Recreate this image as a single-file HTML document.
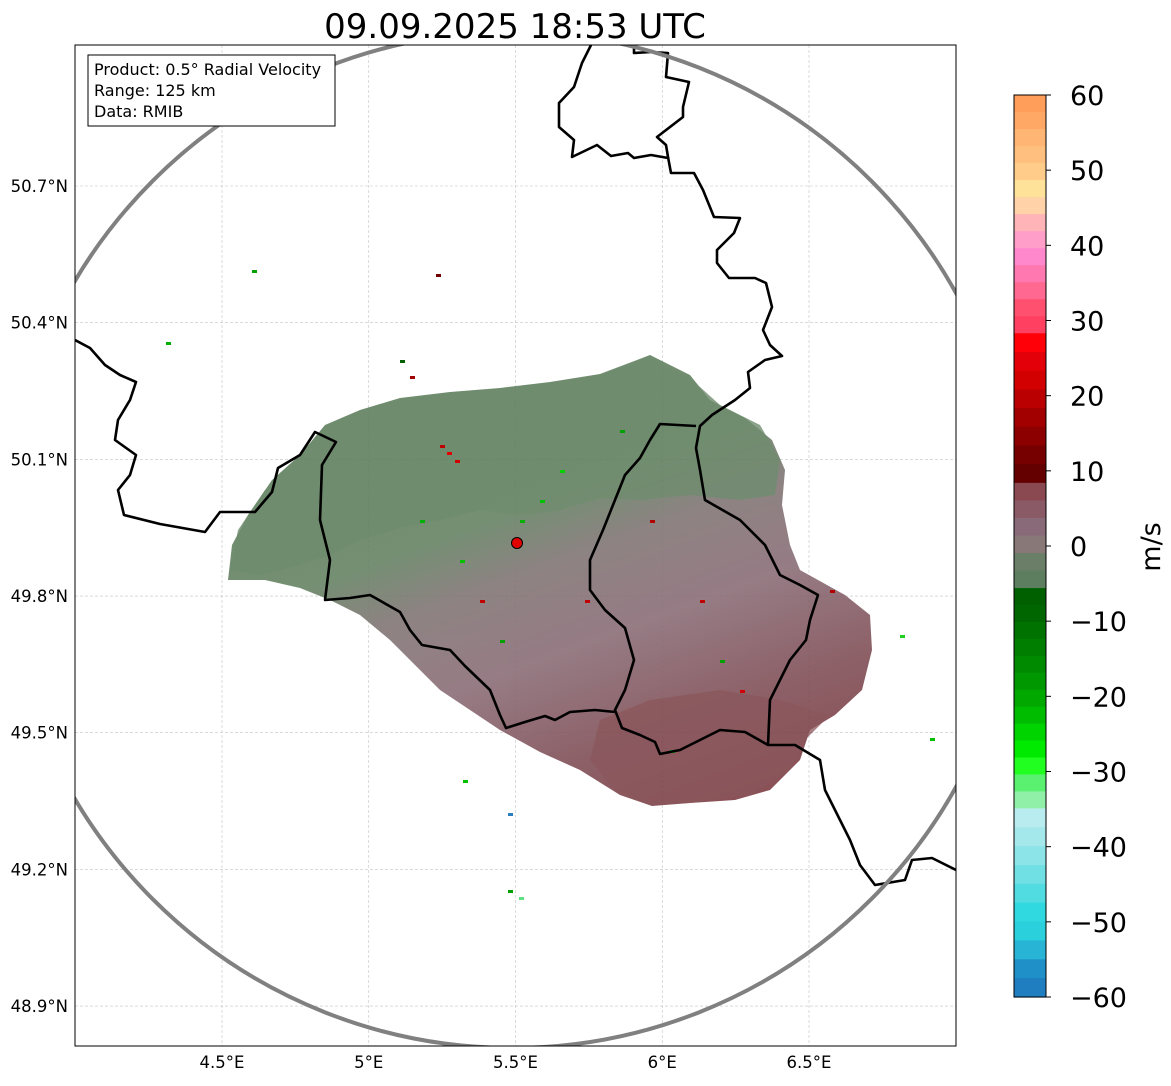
<!DOCTYPE html>
<html><head><meta charset="utf-8"><style>
body{margin:0;background:#fff;font-family:"Liberation Sans","DejaVu Sans",sans-serif;}
svg text{font-family:"DejaVu Sans","Liberation Sans",sans-serif;}
</style></head><body>
<svg id="chart" width="1171" height="1081" viewBox="0 0 1171 1081" xmlns="http://www.w3.org/2000/svg">
<defs>
<clipPath id="clip"><rect x="75" y="45" width="881" height="1001"/></clipPath>
<linearGradient id="echo" x1="0.25" y1="0.05" x2="0.75" y2="1">
<stop offset="0" stop-color="#5b7c5a"/>
<stop offset="0.33" stop-color="#628060"/>
<stop offset="0.45" stop-color="#7e7272"/>
<stop offset="0.62" stop-color="#886a74"/>
<stop offset="0.82" stop-color="#7e4c54"/>
<stop offset="1" stop-color="#7a3a40"/>
</linearGradient>
</defs>
<rect width="1171" height="1081" fill="#fff"/>
<text x="515" y="38" font-size="34" text-anchor="middle" fill="#000">09.09.2025 18:53 UTC</text>
<g id="grid"></g>
<g clip-path="url(#clip)">
<g opacity="0.88">
<path fill="url(#echo)" d="M228,580 L232,545 L248,515 L272,480 L300,455 L325,425 L360,410 L400,398 L450,392 L500,388 L550,382 L600,374 L650,355 L690,375 L710,400 L745,418 L772,440 L785,470 L782,505 L790,545 L800,570 L845,595 L870,615 L872,650 L862,690 L835,715 L810,730 L800,760 L770,790 L735,800 L690,803 L652,806 L620,795 L580,770 L540,752 L500,730 L470,710 L440,690 L415,665 L390,640 L360,615 L330,600 L300,588 L265,580 Z"/>
<path fill="#5d7d5b" opacity="0.8" d="M230,570 L238,530 L265,490 L300,460 L330,425 L380,405 L450,395 L520,388 L590,378 L650,360 L690,378 L720,405 L760,425 L780,460 L775,495 L740,500 L690,495 L640,500 L600,498 L560,510 L520,515 L480,510 L440,520 L400,528 L360,540 L330,555 L300,565 L260,575 Z"/>
<path fill="#7b4046" opacity="0.75" d="M600,720 L650,700 L720,690 L780,700 L830,715 L805,740 L790,770 L750,795 L690,803 L650,805 L615,790 L590,760 Z"/>
</g>
<g id="speckles"></g>
<g fill="none" stroke="#000" stroke-width="2.6" stroke-linejoin="round">
<path d="M591,45 L582,63 L574,87 L559,103 L559,127 L574,140 L572,157 L597,145 L611,156 L628,153 L634,158 L651,155 L668,158"/>
<path d="M634,45 L634,53 L651,52 L668,53 L666,77 L689,82 L683,107 L683,117 L657,137 L666,145 L668,157 L671,173 L694,173 L703,190 L714,217 L740,218 L734,233 L717,250 L717,263 L729,278 L755,278 L766,283 L772,307 L763,330 L770,345 L782,356 L765,360 L748,372 L750,388 L735,400 L712,415 L700,426 L696,448 L700,470 L705,500 L740,520 L765,545 L780,575 L800,585 L818,595 L810,620 L806,640 L790,660 L780,680 L770,700 L768,745 L795,745 L820,760 L825,790 L835,810 L850,840 L860,865 L875,885 L905,880 L912,860 L932,858 L956,870"/>
<path d="M696,426 L660,424 L650,440 L640,458 L625,475 L615,500 L603,530 L590,560 L590,590 L605,610 L625,628 L634,660 L625,690 L615,710 L622,728 L640,735 L655,742 L660,754 L680,750 L700,740 L720,730 L745,732 L768,745"/>
<path d="M75,340 L90,348 L105,365 L120,375 L136,382 L130,400 L118,420 L115,440 L136,455 L130,475 L118,490 L124,515 L160,524 L205,532 L220,512 L255,512 L272,492 L278,468 L300,455 L315,432 L336,442 L322,465 L320,520 L330,560 L325,600 L350,598 L370,595 L400,612 L410,630 L422,645 L450,650 L465,666 L490,690 L500,715 L506,728 L525,722 L545,716 L555,720 L570,712 L595,710 L615,712"/>
</g>
<circle cx="512" cy="540" r="508" fill="none" stroke="#808080" stroke-width="4"/>
<circle cx="517" cy="543" r="5.5" fill="#e00000" stroke="#000" stroke-width="1"/>
</g>
<rect x="75" y="45" width="881" height="1001" fill="none" stroke="#000" stroke-width="1"/>
<g>
<rect x="88" y="55" width="247" height="71" fill="#fff" stroke="#000" stroke-width="1"/>
<text x="94" y="75" font-size="16">Product: 0.5° Radial Velocity</text>
<text x="94" y="96" font-size="16">Range: 125 km</text>
<text x="94" y="117" font-size="16">Data: RMIB</text>
</g>
<g id="axes"></g>
<g id="cbar"></g>
<text x="1160" y="547" font-size="27" text-anchor="middle" transform="rotate(-90 1160 547)">m/s</text>
</svg>
<script>
const lonTicks=[4.5,5,5.5,6,6.5];
const lonLabels=["4.5°E","5°E","5.5°E","6°E","6.5°E"];
const latTicks=[50.7,50.4,50.1,49.8,49.5,49.2,48.9];
const latLabels=["50.7°N","50.4°N","50.1°N","49.8°N","49.5°N","49.2°N","48.9°N"];
const cbarTicks=[60,50,40,30,20,10,0,-10,-20,-30,-40,-50,-60];
const cbarLabels=["60","50","40","30","20","10","0","\u221210","\u221220","\u221230","\u221240","\u221250","\u221260"];
const cbarGroupEdges=[60,28.3,8.4,-5.6,-34.9,-60];
const cbarWarm=["#ff9d5a","#ffa764","#ffb574","#ffbf7e","#ffcc8a","#ffe29a","#ffd2a8","#ffb4b8","#ff9ec8","#ff88cc","#ff78b0","#ff6890","#ff5070","#ff4060"];
const cbarRed=["#ff0008","#e40008","#d20000","#ba0000","#a20000","#8c0000","#760000","#640000"];
const cbarMauve=["#8a4850","#8a5a66","#886a78","#887878","#6a7e68","#5e7e60"];
const cbarGreen=["#006000","#006600","#007200","#007e00","#008a00","#009800","#00a800","#00bc00","#00d400","#00ea00","#20ff20","#5af070","#90f0a8"];
const cbarCyan=["#b8ecee","#a4e8ec","#8ce4e8","#70e0e4","#50dce0","#30d8e0","#2ad0dc","#28b4d4","#2090c8","#1f7ec0"];
const specklePts=[[440,445,"#c00000"],[447,452,"#e00000"],[455,460,"#d00000"],[520,520,"#00b000"],[540,500,"#00c000"],[480,600,"#c00000"],[500,640,"#00a000"],[560,470,"#00d000"],[620,430,"#00a000"],[700,600,"#c00000"],[740,690,"#d00000"],[670,750,"#00c000"],[830,590,"#b00000"],[900,635,"#20d020"],[930,738,"#00c000"],[252,270,"#00a000"],[436,274,"#700000"],[166,342,"#00b000"],[508,813,"#2a7fc0"],[508,890,"#00a000"],[519,897,"#60e080"],[463,780,"#00c000"],[400,360,"#006000"],[410,376,"#a00000"],[585,600,"#c00000"],[460,560,"#00c000"],[420,520,"#00b000"],[650,520,"#b00000"],[720,660,"#00a000"]];
const NS="http://www.w3.org/2000/svg";
function X(lon){return 222+(lon-4.5)*293.5;}
function Y(lat){return 186+(50.7-lat)*455.6;}
function mk(tag,attrs,parent,txt){const e=document.createElementNS(NS,tag);for(const k in attrs)e.setAttribute(k,attrs[k]);if(txt!==undefined)e.textContent=txt;parent.appendChild(e);return e;}
const grid=document.getElementById('grid'),axes=document.getElementById('axes');
lonTicks.forEach((v,i)=>{const x=X(v);
 const l=mk('line',{x1:x,y1:45,x2:x,y2:1046,stroke:'#c4c4c4','stroke-width':0.6,'stroke-dasharray':'3,2'},grid);
 
 
 const t=mk('text',{x:x,y:1068,'font-size':16.5,'text-anchor':'middle'},axes,lonLabels[i]);
 
 });
latTicks.forEach((v,i)=>{const y=Y(v);
 const l=mk('line',{x1:75,y1:y,x2:956,y2:y,stroke:'#c4c4c4','stroke-width':0.6,'stroke-dasharray':'3,2'},grid);
 
 
 const t=mk('text',{x:68,y:y+6,'font-size':16.5,'text-anchor':'end'},axes,latLabels[i]);
 
 });
const sp=document.getElementById('speckles');
specklePts.forEach(p=>{const r=mk('rect',{x:p[0],y:p[1],width:5,height:3,fill:p[2]},sp);
 
 });
const cb=document.getElementById('cbar');const cbTop=95,cbBot=997,cbX=1014,cbW=32;
function CY(v){return cbTop+(60-v)/120*(cbBot-cbTop);}
[cbarWarm,cbarRed,cbarMauve,cbarGreen,cbarCyan].forEach((grp,g)=>{
 const vTop=cbarGroupEdges[g],vBot=cbarGroupEdges[g+1],st=(vTop-vBot)/grp.length;
 grp.forEach((c,i)=>{const y0=CY(vTop-i*st),y1=CY(vTop-(i+1)*st);
  const r=mk('rect',{x:cbX,y:y0,width:cbW,height:y1-y0+0.6,fill:c},cb);
  
  });
});
mk('rect',{x:cbX,y:cbTop,width:cbW,height:cbBot-cbTop,fill:'none',stroke:'#000','stroke-width':1},cb);
cbarTicks.forEach((v,i)=>{const y=CY(v);
 mk('line',{x1:cbX+cbW,y1:y,x2:cbX+cbW+5,y2:y,stroke:'#000'},cb);
 const t=mk('text',{x:1070,y:y+10,'font-size':27},cb,cbarLabels[i]);
 
 });
</script>
</body></html>
